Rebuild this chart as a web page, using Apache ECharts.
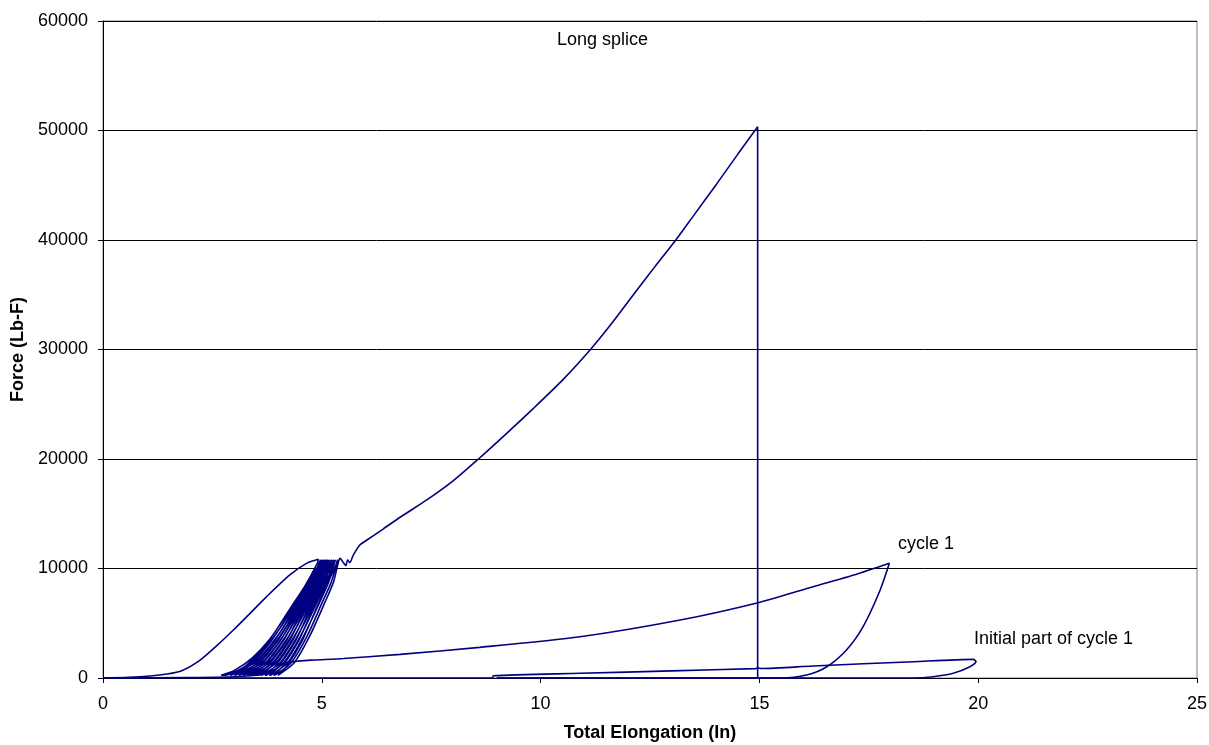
<!DOCTYPE html>
<html>
<head>
<meta charset="utf-8">
<script src="https://cdn.jsdelivr.net/npm/echarts@6/dist/echarts.min.js"></script>
<style>
html,body{margin:0;padding:0;background:#fff;}
#c{width:1209px;height:745px;}
</style>
</head>
<body>
<div id="c"></div>
<script>
// Axis ticks
var xTicks = [0, 5, 10, 15, 20, 25];
var yTicks = [0, 10000, 20000, 30000, 40000, 50000, 60000];

// Long splice test: initial load, repeated cycles, final pull up to peak
var longSplice = [
  [0,0],[0.60,60],[1.07,180],[1.46,365],[1.80,670],[2.22,1640],[2.60,2950],[2.98,4380],[3.36,5900],[3.74,7430],[4.27,9410],[4.65,10470],[4.92,10840],
  [4.90,10500],[4.60,8300],[4.20,5800],[3.80,3500],[3.40,1800],[3.00,700],[2.70,250],
  // cycle loops
  [2.85,300],[3.38,1400],[3.91,3800],[4.44,6900],[4.76,8800],[4.97,10800],
  [4.93,10300],[4.30,6500],[3.79,3400],[3.26,1100],[2.90,250],
  [2.95,300],[3.46,1400],[3.98,3800],[4.49,6900],[4.80,8800],[5.00,10800],
  [4.96,10300],[4.35,6500],[3.85,3400],[3.34,1100],[3.00,250],
  [3.05,300],[3.55,1400],[4.04,3800],[4.54,6900],[4.83,8800],[5.03,10800],
  [4.99,10300],[4.40,6500],[3.92,3400],[3.43,1100],[3.10,250],
  [3.15,300],[3.63,1400],[4.11,3800],[4.58,6900],[4.87,8800],[5.06,10800],
  [5.02,10300],[4.45,6500],[3.99,3400],[3.51,1100],[3.20,250],
  [3.25,300],[3.71,1400],[4.17,3800],[4.63,6900],[4.91,8800],[5.09,10800],
  [5.05,10300],[4.49,6500],[4.05,3400],[3.59,1100],[3.30,250],
  [3.35,300],[3.79,1400],[4.24,3800],[4.68,6900],[4.94,8800],[5.12,10800],
  [5.08,10300],[4.54,6500],[4.12,3400],[3.68,1100],[3.40,250],
  [3.45,300],[3.88,1400],[4.30,3800],[4.73,6900],[4.98,8800],[5.15,10800],
  [5.11,10300],[4.59,6500],[4.19,3400],[3.76,1100],[3.50,250],
  [3.55,300],[3.96,1400],[4.37,3800],[4.78,6900],[5.03,8800],[5.19,10800],
  [5.15,10300],[4.65,6500],[4.26,3400],[3.85,1100],[3.60,250],
  [3.65,300],[4.05,1400],[4.44,3800],[4.84,6900],[5.07,8800],[5.23,10800],
  [5.19,10300],[4.71,6500],[4.33,3400],[3.94,1100],[3.70,250],
  [3.75,300],[4.13,1400],[4.51,3800],[4.89,6900],[5.12,8800],[5.27,10800],
  [5.23,10300],[4.76,6500],[4.40,3400],[4.02,1100],[3.80,250],
  [3.85,300],[4.22,1400],[4.58,3800],[4.95,6900],[5.16,8800],[5.31,10800],
  [5.27,10300],[4.82,6500],[4.47,3400],[4.11,1100],[3.90,250],
  [3.95,300],[4.30,1400],[4.66,3800],[5.01,6900],[5.22,8800],[5.36,10800],
  [5.32,10300],[4.89,6500],[4.55,3400],[4.20,1100],[4.00,250],
  // final pull
  [4.02,300],[4.37,1400],[4.72,3800],[5.07,6900],[5.27,8800],[5.38,10600],[5.42,10930],[5.44,10850],
  [5.50,10500],[5.55,10260],[5.59,10800],[5.64,10530],[5.72,11230],[5.87,12150],[6.03,12600],
  [6.40,13600],[6.79,14680],[7.40,16260],[8.00,18000],[8.58,20000],[9.20,22250],[9.83,24600],
  [10.50,27200],[11.14,30000],[11.60,32250],[12.12,35000],[12.60,37500],[13.09,40000],
  [13.50,42250],[14.02,45100],[14.50,47800],[14.96,50350]
];
// Long splice failure: load drops to zero
var longSpliceFailure = [[14.96,50350],[14.96,0]];

// Cycle 1
var cycle1 = [
  [0,0],[2.00,50],[3.00,120],[3.60,300],[3.95,800],[4.12,1340],[4.50,1560],[4.81,1640],[5.50,1780],
  [6.79,2160],[8.61,2800],[10.90,3770],[13.19,5300],[14.97,6880],[16.23,8340],[17.20,9450],[17.97,10470],
  [17.76,8040],[17.37,4690],[16.99,2560],[16.54,1030],[16.08,270],[15.47,0],[9.00,0]
];

// Initial part of cycle 1
var initialCycle1 = [
  [0,0],[8.90,0],[8.92,210],[10.90,430],[13.00,650],[14.90,860],[14.97,900],[15.05,870],
  [16.23,1100],[18.52,1490],[19.89,1700],[19.95,1500],[19.81,1030],[19.43,430],[18.97,120],[18.52,0],[9.00,0]
];

var navy = '#000080';
var font = "'Liberation Sans', Arial, sans-serif";

var chart = echarts.init(document.getElementById('c'), null, {renderer: 'canvas'});

function lineSeries(name, data, smooth) {
  return {
    name: name, type: 'line', data: data, showSymbol: false, symbol: 'none',
    smooth: smooth,
    lineStyle: {color: navy, width: 1.6}, itemStyle: {color: navy},
    animation: false, silent: true
  };
}

chart.setOption({
  animation: false,
  backgroundColor: '#fff',
  grid: {left: 103, right: 12, top: 21, bottom: 67, show: true, borderColor: '#808080', borderWidth: 1,
         containLabel: false, outerBoundsMode: 'none'},
  xAxis: {
    type: 'value', min: xTicks[0], max: xTicks[xTicks.length - 1], interval: 5,
    name: 'Total Elongation (In)', nameLocation: 'middle', nameGap: 46,
    nameTextStyle: {fontFamily: font, fontSize: 18, fontWeight: 'bold', color: '#000'},
    axisLine: {show: true, lineStyle: {color: '#000', width: 1}},
    axisTick: {show: true, inside: false, length: 5, lineStyle: {color: '#000'}},
    axisLabel: {fontFamily: font, fontSize: 18, color: '#000', margin: 17,
                formatter: function (v) { return String(v); }},
    splitLine: {show: false}
  },
  yAxis: {
    type: 'value', min: yTicks[0], max: yTicks[yTicks.length - 1], interval: 10000,
    name: 'Force (Lb-F)', nameLocation: 'middle', nameGap: 74,
    nameTextStyle: {fontFamily: font, fontSize: 18, fontWeight: 'bold', color: '#000'},
    axisLine: {show: true, lineStyle: {color: '#000', width: 1}},
    axisTick: {show: true, inside: false, length: 5, lineStyle: {color: '#000'}},
    axisLabel: {fontFamily: font, fontSize: 18, color: '#000', margin: 15,
                formatter: function (v) { return String(v); }},
    splitLine: {show: true, lineStyle: {color: '#000', width: 1}}
  },
  series: [
    lineSeries('Initial part of cycle 1', initialCycle1, 0.25),
    lineSeries('cycle 1', cycle1, 0.25),
    lineSeries('Long splice', longSplice, 0.25),
    lineSeries('Long splice failure', longSpliceFailure, false)
  ],
  graphic: [
    {type: 'text', x: 557, y: 40, style: {text: 'Long splice', fill: '#000', font: '18px ' + font, align: 'left', verticalAlign: 'middle'}},
    {type: 'text', x: 898, y: 544, style: {text: 'cycle 1', fill: '#000', font: '18px ' + font, align: 'left', verticalAlign: 'middle'}},
    {type: 'text', x: 974, y: 639, style: {text: 'Initial part of cycle 1', fill: '#000', font: '18px ' + font, align: 'left', verticalAlign: 'middle'}}
  ]
});
</script>
</body>
</html>
